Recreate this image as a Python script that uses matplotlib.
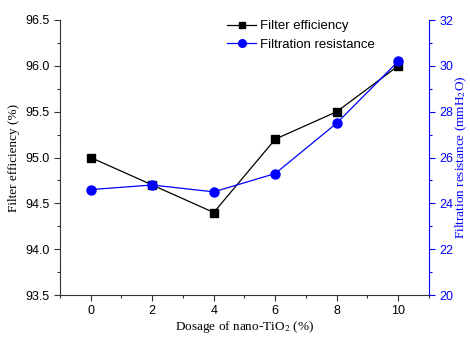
import matplotlib
matplotlib.use("Agg")
import matplotlib.pyplot as plt
from matplotlib.ticker import MultipleLocator
from matplotlib.lines import Line2D

dosage = [0, 2, 4, 6, 8, 10]
efficiency = [95.0, 94.7, 94.4, 95.2, 95.5, 96.0]
resistance = [24.6, 24.8, 24.5, 25.3, 27.5, 30.2]

plt.rcParams['font.family'] = ['Liberation Sans', 'DejaVu Sans']
plt.rcParams['mathtext.fontset'] = 'stix'

fig = plt.figure(figsize=(4.7, 3.38), dpi=100)
ax = fig.add_axes([60/470, 1-295/338, (429-60)/470, (295-20)/338])
ax2 = ax.twinx()

ax.plot(dosage, efficiency, color='black', marker='s', markersize=6, lw=0.9, label='Filter efficiency', zorder=3)
ax2.plot(dosage, resistance, color='blue', marker='o', markersize=6.5, lw=0.9, label='Filtration resistance', zorder=3)

ax.set_xlim(-1, 11)
ax.set_ylim(93.5, 96.5)
ax2.set_ylim(20, 32)

ax.xaxis.set_major_locator(MultipleLocator(2))
ax.xaxis.set_minor_locator(MultipleLocator(1))
ax.yaxis.set_major_locator(MultipleLocator(0.5))
ax.yaxis.set_minor_locator(MultipleLocator(0.25))
ax2.yaxis.set_major_locator(MultipleLocator(2))
ax2.yaxis.set_minor_locator(MultipleLocator(1))
ax.yaxis.set_major_formatter(matplotlib.ticker.FormatStrFormatter('%.1f'))

for a in (ax, ax2):
    a.spines['top'].set_visible(False)
ax.spines['right'].set_visible(False)
ax2.spines['left'].set_visible(False)
ax2.spines['bottom'].set_visible(False)
ax.spines['left'].set_color('#333333')
ax.spines['bottom'].set_color('#333333')
ax2.spines['right'].set_color('blue')

ax.tick_params(axis='both', which='major', direction='out', length=4, width=0.8, labelsize=9, color='#333333')
ax.tick_params(axis='both', which='minor', direction='out', length=2.5, width=0.8, color='#333333')
ax2.tick_params(axis='y', which='major', direction='out', length=4, width=0.8, labelsize=9, colors='blue')
ax2.tick_params(axis='y', which='minor', direction='out', length=2.5, width=0.8, colors='blue')

ax.set_xlabel('Dosage of nano-TiO$_2$ (%)', family='Liberation Serif', fontsize=9.5, labelpad=1)
ax.set_ylabel('Filter efficiency (%)', family='Liberation Serif', fontsize=9.5)
ax2.set_ylabel('Filtration resistance (mmH$_2$O)', family='Liberation Serif', fontsize=9.5,
               color='blue')
ax2.yaxis.set_label_coords((454-60)/369, 0.5)

handles = [
    Line2D([], [], color='black', marker='s', markersize=5, lw=0.9),
    Line2D([], [], color='blue', marker='o', markersize=5.5, lw=0.9),
]
fig.legend(handles, ['Filter efficiency', 'Filtration resistance'], loc='upper left',
           bbox_to_anchor=(218/470, 1-11/338), frameon=False, fontsize=9.5,
           handlelength=2.2, handletextpad=0.3, labelspacing=0.45, borderpad=0.2)

fig.savefig('out.png', dpi=100)
